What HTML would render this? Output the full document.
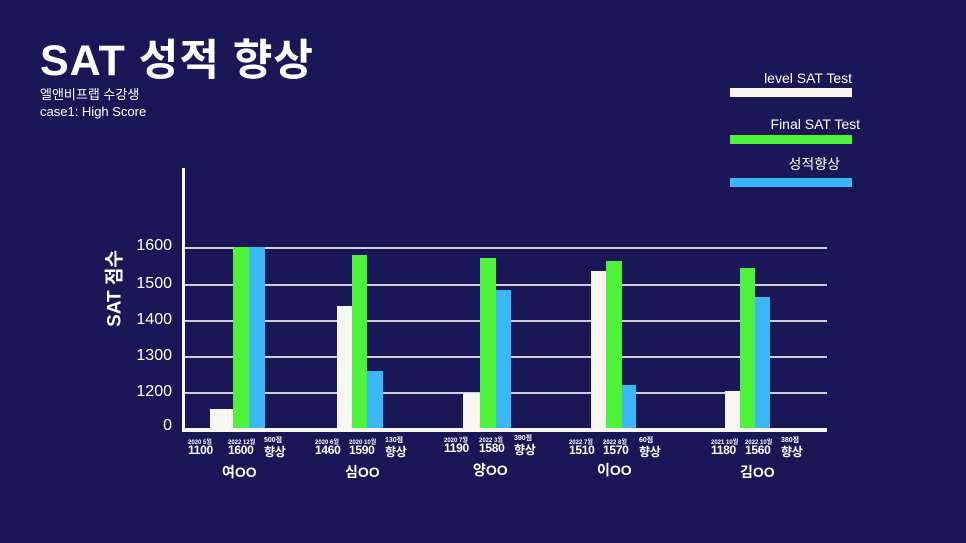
<!DOCTYPE html>
<html><head><meta charset="utf-8"><style>
body{margin:0;width:966px;height:543px;background:#1b1757;position:relative;overflow:hidden;font-family:"Liberation Sans","Noto Sans CJK KR",sans-serif;color:#fff}
div{position:absolute}
.g{left:183px;width:644px;height:2px;background:#cfcfe0}
.w{background:#f7f6f0}.gr{background:#4ef23a}.bl{background:#3bb7f7}
.yt{width:60px;left:112px;text-align:right;font-size:16px}
.s{font-size:6px;font-weight:bold;white-space:nowrap}
.n{font-size:12px;font-weight:bold;white-space:nowrap;letter-spacing:-0.3px}
.nm{font-size:14px;font-weight:bold;white-space:nowrap}
</style></head><body>
<div style="left:40px;top:26px;font-size:43px;font-weight:bold;letter-spacing:1px">SAT 성적 향상</div>
<div style="left:40px;top:84px;font-size:13px">엘앤비프랩 수강생</div>
<div style="left:40px;top:104px;font-size:13px">case1: High Score</div>

<div style="left:650px;width:202px;text-align:right;top:70px;font-size:14px">level SAT Test</div>
<div class="w" style="left:730px;top:88px;width:122px;height:9px"></div>
<div style="left:650px;width:210px;text-align:right;top:116px;font-size:14px">Final SAT Test</div>
<div class="gr" style="left:730px;top:135px;width:122px;height:9px"></div>
<div style="left:650px;width:190px;text-align:right;top:154px;font-size:14px">성적향상</div>
<div class="bl" style="left:730px;top:178px;width:122px;height:9px"></div>

<div style="left:68px;top:275px;width:90px;text-align:center;transform:rotate(-90deg);font-size:19px;font-weight:bold">SAT 점수</div>
<div class="yt" style="top:237px">1600</div>
<div class="yt" style="top:275px">1500</div>
<div class="yt" style="top:311px">1400</div>
<div class="yt" style="top:347px">1300</div>
<div class="yt" style="top:383px">1200</div>
<div class="yt" style="top:417px">0</div>

<div class="g" style="top:247px"></div>
<div class="g" style="top:284px"></div>
<div class="g" style="top:320px"></div>
<div class="g" style="top:356px"></div>
<div class="g" style="top:392px"></div>
<div style="left:182px;top:168px;width:3px;height:262px;background:#f7f6f0"></div>
<div style="left:182px;top:428px;width:645px;height:4px;background:#f7f6f0"></div>

<div class="w" style="left:210px;width:23px;height:19px;top:409px"></div>
<div class="gr" style="left:233px;width:16px;top:247px;height:181px"></div>
<div class="bl" style="left:249px;width:16px;top:247px;height:181px"></div>

<div class="w" style="left:337px;width:15px;top:306px;height:122px"></div>
<div class="gr" style="left:352px;width:15px;top:255px;height:173px"></div>
<div class="bl" style="left:367px;width:16px;top:371px;height:57px"></div>

<div class="w" style="left:463px;width:17px;top:393px;height:35px"></div>
<div class="gr" style="left:480px;width:16px;top:258px;height:170px"></div>
<div class="bl" style="left:496px;width:15px;top:290px;height:138px"></div>

<div class="w" style="left:591px;width:15px;top:271px;height:157px"></div>
<div class="gr" style="left:606px;width:16px;top:261px;height:167px"></div>
<div class="bl" style="left:622px;width:14px;top:385px;height:43px"></div>

<div class="w" style="left:725px;width:15px;top:391px;height:37px"></div>
<div class="gr" style="left:740px;width:15px;top:268px;height:160px"></div>
<div class="bl" style="left:755px;width:15px;top:297px;height:131px"></div>

<div class="s" style="left:188px;top:437px">2020 5월</div><div class="n" style="left:188px;top:443px">1100</div>
<div class="s" style="left:228px;top:437px">2022 12월</div><div class="n" style="left:228px;top:443px">1600</div>
<div class="s" style="left:264px;top:435px;font-size:7px">500점</div><div class="n" style="left:264px;top:443px">향상</div>
<div class="nm" style="left:222px;top:462px">여OO</div>

<div class="s" style="left:315px;top:437px">2020 6월</div><div class="n" style="left:315px;top:443px">1460</div>
<div class="s" style="left:349px;top:437px">2020 10월</div><div class="n" style="left:349px;top:443px">1590</div>
<div class="s" style="left:385px;top:435px;font-size:7px">130점</div><div class="n" style="left:385px;top:443px">향상</div>
<div class="nm" style="left:345px;top:462px">심OO</div>

<div class="s" style="left:444px;top:435px">2020 7월</div><div class="n" style="left:444px;top:441px">1190</div>
<div class="s" style="left:479px;top:435px">2022 3월</div><div class="n" style="left:479px;top:441px">1580</div>
<div class="s" style="left:514px;top:433px;font-size:7px">390점</div><div class="n" style="left:514px;top:441px">향상</div>
<div class="nm" style="left:473px;top:460px">양OO</div>

<div class="s" style="left:569px;top:437px">2022 7월</div><div class="n" style="left:569px;top:443px">1510</div>
<div class="s" style="left:603px;top:437px">2022 8월</div><div class="n" style="left:603px;top:443px">1570</div>
<div class="s" style="left:639px;top:435px;font-size:7px">60점</div><div class="n" style="left:639px;top:443px">향상</div>
<div class="nm" style="left:597px;top:460px">이OO</div>

<div class="s" style="left:711px;top:437px">2021 10월</div><div class="n" style="left:711px;top:443px">1180</div>
<div class="s" style="left:745px;top:437px">2022 10월</div><div class="n" style="left:745px;top:443px">1560</div>
<div class="s" style="left:781px;top:435px;font-size:7px">380점</div><div class="n" style="left:781px;top:443px">향상</div>
<div class="nm" style="left:740px;top:462px">김OO</div>
</body></html>
